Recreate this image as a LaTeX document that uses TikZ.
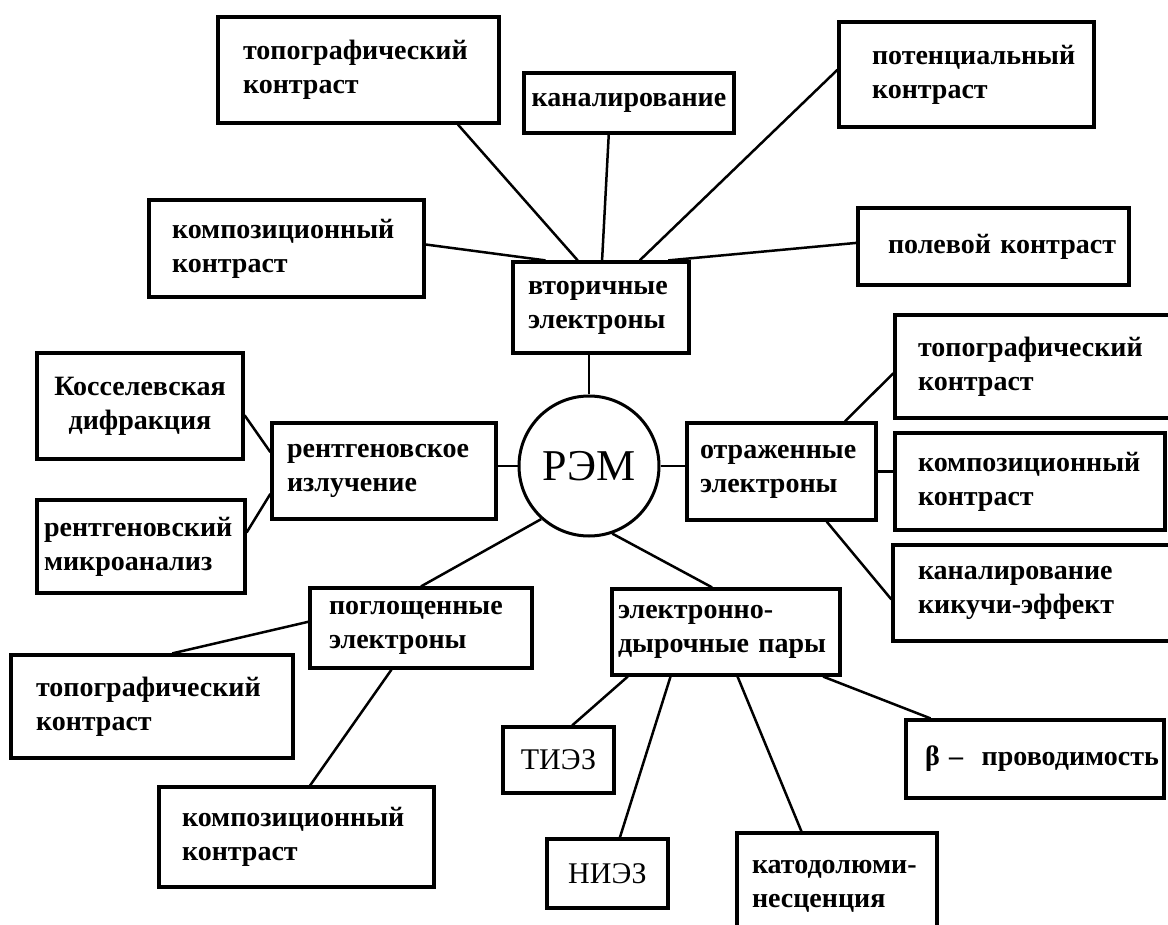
\documentclass[tikz,border=0pt]{standalone}
\usepackage{fontspec}
\setmainfont{Liberation Serif}
\usetikzlibrary{calc}
\begin{document}
\begin{tikzpicture}[x=1pt,y=-1pt,
  box/.style={draw, line width=3.2pt, rectangle, align=left, inner ysep=0pt,
    font=\bfseries\fontsize{28}{34}\selectfont},
  cbox/.style={box, align=center},
  plain/.style={font=\fontsize{30}{34}\selectfont},
  bx/.style n args={4}{minimum width=#1pt, minimum height=#2pt, inner xsep=#3pt, text width=#4pt},
  link/.style={line width=2.5pt},
]
\fill[white] (0,0) rectangle (1168,925);
\useasboundingbox (0,0) rectangle (1168,925);
\clip (0,0) rectangle (1168,925);

% centre
\node[circle, draw, line width=3pt, minimum size=140pt, inner sep=0pt,
  font=\fontsize{44}{50}\selectfont] (rem) at (589,466) {РЭМ};

% secondary electrons group
\node[box, bx={176}{91}{15}{146}] (V) at (601,307.5) {вторичные\\электроны};
\node[box, bx={281}{106}{25}{231}] (A) at (358.5,70) {топографический\\контраст};
\node[cbox, bx={210}{60}{5}{200}] (K) at (629,103) {\mbox{каналирование}};
\node[box, bx={255}{105}{33}{189}] (P) at (966.5,74.5) {потенциальный\\контраст};
\node[box, bx={275}{97}{23}{229}] (B) at (286.5,248.5) {композиционный\\контраст};
\node[box, bx={271}{77}{30}{211}] (F) at (993.5,246.5) {\mbox{полевой контраст}};

% x-ray group
\node[box, bx={224}{96}{15}{194}] (R) at (384,471) {рентгеновское\\излучение};
\node[cbox, bx={206}{106}{5}{196}] (Ko) at (140,406) {Косселевская\\дифракция};
\node[box, bx={208}{93}{7}{194}] (M) at (141,546.5) {рентгеновский\\микроанализ};

% reflected electrons group
\node[box, bx={189}{97}{13}{163}] (O) at (781.5,471.5) {отраженные\\электроны};
\node[box, bx={277}{103}{23}{231}] (TC) at (1033.5,366.5) {топографический\\контраст};
\node[box, bx={270}{97}{23}{224}] (KC) at (1030,481.5) {композиционный\\контраст};
\node[box, bx={279}{96}{25}{229}] (KK) at (1032.5,593) {каналирование\\кикучи-эффект};

% absorbed electrons group
\node[box, bx={222}{80}{19}{184}] (G) at (421,628) {поглощенные\\электроны};
\node[box, bx={282}{103}{25}{232}] (TD) at (152,706.5) {топографический\\контраст};
\node[box, bx={275}{100}{23}{229}] (KD) at (296.5,837) {композиционный\\контраст};

% electron-hole pairs group
\node[box, bx={228}{86}{6}{216}] (EH) at (726,632) {электронно-\\\mbox{дырочные пары}};
\node[cbox, plain, bx={111}{66}{5}{101}] (T) at (558.5,760) {ТИЭЗ};
\node[cbox, plain, bx={121}{69}{5}{111}] (N) at (607.5,873.5) {НИЭЗ};
\node[box, bx={200}{107}{15}{170}] (C) at (837,886.5) {катодолюми-\\несценция};
\node[box, bx={258}{78}{19}{220}] (Be) at (1035,759) {\mbox{β –\ \ проводимость}};

% connectors
\draw[link] ($(A.south west)!0.85!(A.south east)$) -- ($(V.north west)!0.37!(V.north east)$);
\draw[link] ($(B.north east)!0.46!(B.south east)$) -- ($(V.north west)!0.19!(V.north east)$);
\draw[link] ($(K.south west)!0.405!(K.south east)$) -- ($(V.north west)!0.506!(V.north east)$);
\draw[link] ($(P.north west)!0.457!(P.south west)$) -- ($(V.north west)!0.716!(V.north east)$);
\draw[link] ($(F.north west)!0.455!(F.south west)$) -- ($(V.north west)!0.875!(V.north east)$);
\draw[link] (rem.north |- V.south) -- (rem.north);

\draw[link] (rem.west -| R.east) -- (rem.west);
\draw[link] ($(Ko.north east)!0.585!(Ko.south east)$) -- ($(R.north west)!0.31!(R.south west)$);
\draw[link] ($(M.north east)!0.355!(M.south east)$) -- ($(R.north west)!0.73!(R.south west)$);

\draw[link] (rem.east) -- (rem.east -| O.west);
\draw[link] ($(O.north west)!0.83!(O.north east)$) -- ($(TC.north west)!0.563!(TC.south west)$);
\draw[link] (O.east) -- (O.east -| KC.west);
\draw[link] ($(O.south west)!0.735!(O.south east)$) -- ($(KK.north west)!0.565!(KK.south west)$);

\draw[link] (rem.228.8) -- (G.north);
\draw[link] ($(G.north west)!0.425!(G.south west)$) -- ($(TD.north west)!0.571!(TD.north east)$);
\draw[link] ($(G.south west)!0.369!(G.south east)$) -- ($(KD.north west)!0.549!(KD.north east)$);

\draw[link] (rem.289) -- ($(EH.north west)!0.44!(EH.north east)$);
\draw[link] ($(EH.south west)!0.075!(EH.south east)$) -- ($(T.north west)!0.62!(T.north east)$);
\draw[link] ($(EH.south west)!0.26!(EH.south east)$) -- ($(N.north west)!0.6!(N.north east)$);
\draw[link] ($(EH.south west)!0.55!(EH.south east)$) -- ($(C.north west)!0.325!(C.north east)$);
\draw[link] ($(EH.south west)!0.92!(EH.south east)$) -- ($(Be.north west)!0.1!(Be.north east)$);
\end{tikzpicture}
\end{document}
